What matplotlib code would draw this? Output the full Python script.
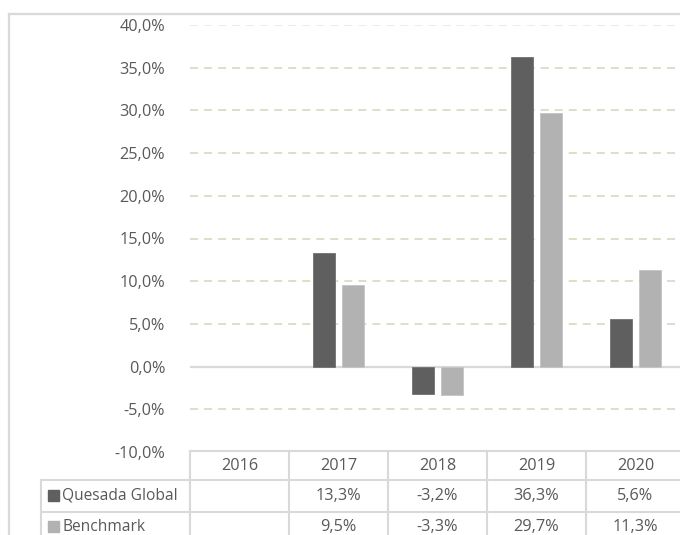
import numpy as np
import matplotlib
matplotlib.use("Agg")
import matplotlib.pyplot as plt
from matplotlib.lines import Line2D
from matplotlib.patches import Rectangle

years = ["2016", "2017", "2018", "2019", "2020"]
series_names = ["Quesada Global", "Benchmark"]
quesada = [np.nan, 13.3, -3.2, 36.3, 5.6]
benchmark = [np.nan, 9.5, -3.3, 29.7, 11.3]
yticks = [-10, -5, 0, 5, 10, 15, 20, 25, 30, 35, 40]

colors = ["#5f5f5f", "#b2b2b2"]
text_color = "#595959"
grid_color = "#dedac6"
line_gray = "#d9d9d9"
FS = 11.7

plt.rcParams['font.family'] = ['Open Sans', 'DejaVu Sans']
plt.rcParams['lines.scale_dashes'] = False

W, H = 680, 535
fig = plt.figure(figsize=(W / 100, H / 100), dpi=100)

def fx(px):
    return px / W

def fy(py):
    return 1 - py / H

# plot area in pixels
x0, x1 = 190, 685
ytop, ybot = 25, 452
ax = fig.add_axes([fx(x0), fy(ybot), fx(x1 - x0), (ybot - ytop) / H])
ax.set_xlim(-0.5, len(years) - 0.5)
ax.set_ylim(-10, 40)
for s in ax.spines.values():
    s.set_visible(False)
ax.set_xticks([])
ax.set_yticks(yticks)
ax.set_yticklabels([f"{v:.1f}%".replace(".", ",") for v in yticks], fontsize=FS, color=text_color)
ax.tick_params(axis='y', length=0, pad=18)

for v in yticks:
    if v == 0:
        ax.axhline(0, color=line_gray, lw=1.6, zorder=1)
    elif v == 40:
        ax.axhline(v, color="#eeece2", lw=1.4, linestyle=(0, (5.8, 4.3)), zorder=0)
    elif v == -10:
        pass
    else:
        ax.axhline(v, color=grid_color, lw=1.3, linestyle=(0, (5.8, 4.3)), zorder=0)

x = np.arange(len(years))
bw = 0.22
off = 0.146
ax.bar(x - off, quesada, width=bw, color=colors[0], edgecolor="#707070", linewidth=0.6, zorder=3)
ax.bar(x + off, benchmark, width=bw, color=colors[1], edgecolor="#c4c4c4", linewidth=0.6, zorder=3)

# outer frame
fig.add_artist(Line2D([fx(9), fx(9)], [fy(14), fy(H + 5)], color=line_gray, lw=1.6))
fig.add_artist(Line2D([fx(9), fx(W + 5)], [fy(14), fy(14)], color=line_gray, lw=1.6))

# data table
col_w = (x1 - x0) / len(years)
tl = line_gray
fig.add_artist(Line2D([fx(x0), fx(W + 5)], [fy(451), fy(451)], color=tl, lw=1.5))
fig.add_artist(Line2D([fx(41), fx(W + 5)], [fy(480), fy(480)], color=tl, lw=1.5))
fig.add_artist(Line2D([fx(41), fx(W + 5)], [fy(512), fy(512)], color=tl, lw=1.5))
fig.add_artist(Line2D([fx(41), fx(41)], [fy(480), fy(H + 5)], color=tl, lw=1.5))
for i in range(len(years) + 1):
    xx = x0 + i * col_w
    fig.add_artist(Line2D([fx(xx), fx(xx)], [fy(451), fy(H + 5)], color=tl, lw=1.5))

row_y = [466, 496, 527]
for i, yr in enumerate(years):
    cx = x0 + (i + 0.5) * col_w
    fig.text(fx(cx), fy(row_y[0]), yr, ha='center', va='center', fontsize=FS, color=text_color)
    for r, vals in enumerate([quesada, benchmark]):
        v = vals[i]
        if not np.isnan(v):
            fig.text(fx(cx), fy(row_y[r + 1]), f"{v:.1f}%".replace(".", ","),
                     ha='center', va='center', fontsize=FS, color=text_color)

for r, name in enumerate(series_names):
    yc = row_y[r + 1]
    fig.add_artist(Rectangle((fx(48), fy(yc + 5)), fx(11), 11 / H, color=colors[r]))
    fig.text(fx(62), fy(yc), name, ha='left', va='center', fontsize=11.2, color=text_color)

fig.savefig("out.png", dpi=100)
